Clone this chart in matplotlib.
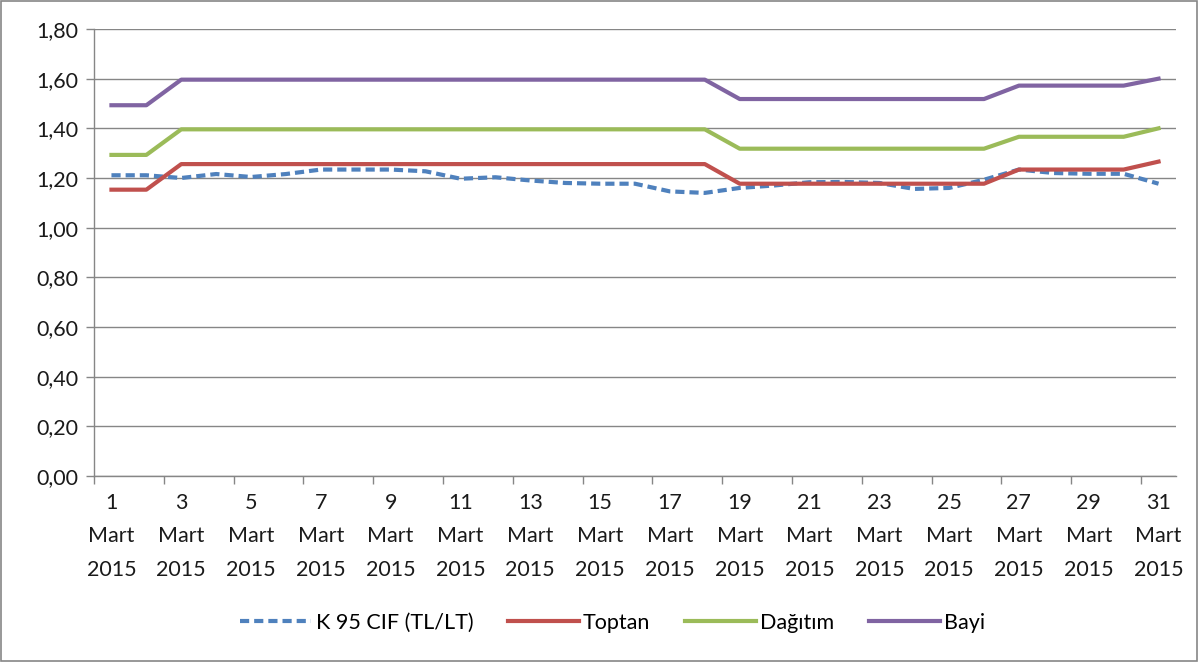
import numpy as np
import matplotlib
matplotlib.use("Agg")
import matplotlib.pyplot as plt
from matplotlib.patches import Rectangle
from matplotlib.ticker import FuncFormatter

plt.rcParams['font.family'] = ['Lato', 'DejaVu Sans']

# Days of March 2015
days = list(range(1, 32))

k95_cif = [1.211, 1.211, 1.200, 1.216, 1.204, 1.216, 1.234, 1.234, 1.234, 1.227,
           1.197, 1.203, 1.190, 1.180, 1.177, 1.177, 1.146, 1.140, 1.160, 1.170,
           1.183, 1.184, 1.180, 1.156, 1.160, 1.193, 1.234, 1.220, 1.217, 1.217,
           1.177]
toptan = [1.153, 1.153] + [1.256] * 16 + [1.177] * 8 + [1.234] * 4 + [1.266]
dagitim = [1.293, 1.293] + [1.396] * 16 + [1.318] * 8 + [1.366] * 4 + [1.400]
bayi = [1.493, 1.493] + [1.596] * 16 + [1.518] * 8 + [1.572] * 4 + [1.600]

series_names = ["K 95 CIF (TL/LT)", "Toptan", "Dağıtım", "Bayi"]
colors = ["#4F81BD", "#C0504D", "#9BBB59", "#8064A2"]

label_days = days[::2]
tick_labels = [f"{d}\nMart\n2015" for d in label_days]

fig = plt.figure(figsize=(11.99, 6.62), dpi=100)
ax = fig.add_axes([94 / 1199, 1 - 476 / 662, (1176 - 94) / 1199, (476 - 29) / 662])

ax.plot(days, k95_cif, color=colors[0], lw=3, linestyle=(0, (2.2, 1.2)), label=series_names[0])
ax.plot(days, toptan, color=colors[1], lw=3, label=series_names[1])
ax.plot(days, dagitim, color=colors[2], lw=3, label=series_names[2])
ax.plot(days, bayi, color=colors[3], lw=3, label=series_names[3])

ax.set_xlim(0.5, 31.5)
ax.set_ylim(0, 1.8)
ax.set_yticks(np.arange(0, 1.81, 0.2))
ax.yaxis.set_major_formatter(FuncFormatter(lambda v, p: f"{v:.2f}".replace(".", ",")))
ax.grid(axis="y", color="#868686", lw=1)
ax.set_axisbelow(True)

ax.set_xticks(np.arange(0.5, 31, 2))
ax.set_xticklabels([])
ax.set_xticks(label_days, minor=True)
ax.set_xticklabels(tick_labels, minor=True, linespacing=1.85)
ax.tick_params(axis="x", which="major", length=6, color="#868686", width=1)
ax.tick_params(axis="x", which="minor", length=0, pad=12, labelsize=15.5, labelcolor="#1a1a1a")
ax.tick_params(axis="y", length=6, color="#868686", width=1, labelsize=15.5, labelcolor="#1a1a1a", pad=5)

for side in ["top", "right"]:
    ax.spines[side].set_visible(False)
for side in ["left", "bottom"]:
    ax.spines[side].set_color("#868686")
    ax.spines[side].set_linewidth(1)

fig.legend(loc="center", bbox_to_anchor=(0.511, 1 - 623 / 662), ncol=4, frameon=False,
           fontsize=15.5, handlelength=3.3, columnspacing=1.6, handletextpad=0.2)

fig.add_artist(Rectangle((0.001, 0.001), 0.997, 0.997, transform=fig.transFigure,
                         fill=False, edgecolor="#868686", lw=1.2))

fig.savefig("out.png", dpi=100)
